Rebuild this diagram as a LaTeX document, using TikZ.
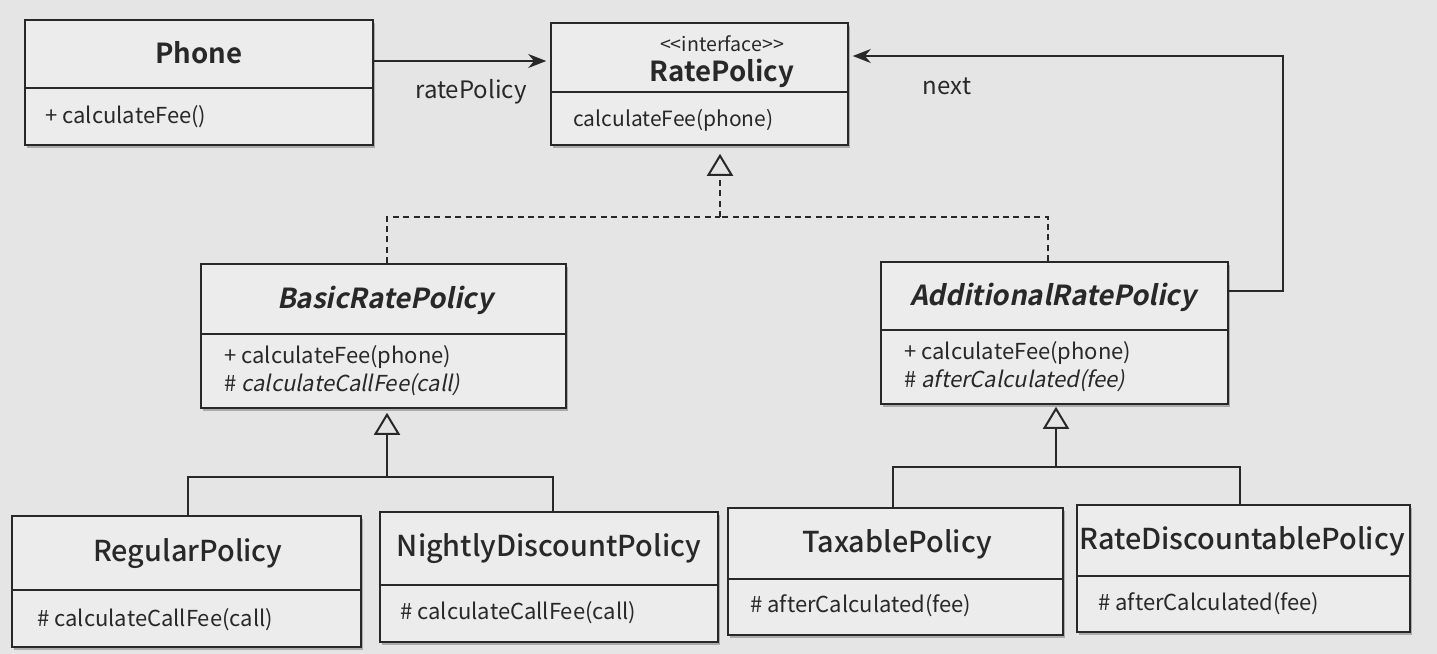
\documentclass[tikz,border=0pt]{standalone}
\usepackage{fontspec}
\setmainfont{Noto Sans CJK KR}[BoldFont={Noto Sans CJK KR Bold}, ItalicFont={Noto Sans CJK KR}, ItalicFeatures={FakeSlant=0.2}, BoldItalicFont={Noto Sans CJK KR Bold}, BoldItalicFeatures={FakeSlant=0.2}]
\newfontfamily\medfont{Noto Sans CJK KR Medium}
\usetikzlibrary{arrows.meta,fit,shadows}
\definecolor{bgc}{RGB}{229,229,229}
\definecolor{boxc}{RGB}{236,236,236}
\definecolor{ink}{RGB}{40,40,40}
\tikzset{
  cls/.style={draw=ink, line width=0.8pt, fill=boxc, inner sep=0pt,
    drop shadow={shadow xshift=1pt, shadow yshift=-1.5pt, opacity=0.25, fill=black}},
  div/.style={draw=ink, line width=0.8pt},
  ttl/.style={font=\fontsize{13.8}{16}\selectfont\bfseries, text=ink, inner sep=0pt},
  ttlm/.style={font=\fontsize{14.4}{17}\selectfont\medfont, text=ink, inner sep=0pt},
  mem/.style={font=\fontsize{11}{13}\selectfont, text=ink, anchor=west, inner sep=0pt},
  memr/.style={font=\fontsize{10.5}{12}\selectfont, text=ink, anchor=west, inner sep=0pt},
  lbl/.style={font=\fontsize{12}{14}\selectfont, text=ink, inner sep=0pt},
  stereo/.style={font=\fontsize{9.8}{11}\selectfont, text=ink, inner sep=0pt},
  assoc/.style={draw=ink, line width=1pt, -{Stealth[length=9pt,width=7pt]}},
  gen/.style={draw=ink, line width=1pt},
  genhead/.style={draw=ink, line width=1pt, -{Triangle[open, length=11pt, width=13pt, fill=bgc]}},
  real/.style={draw=ink, line width=1pt, dash pattern=on 3pt off 2.2pt},
}
\begin{document}
\begin{tikzpicture}[x=0.5pt,y=-0.5pt]
\fill[bgc] (0,0) rectangle (1437,654);
\useasboundingbox (0,0) rectangle (1437,654);

% Phone
\node[cls, fit={(25,20) (373,145)}] (phone) {};
\draw[div] (phone.west |- 0,88) -- (phone.east |- 0,88);
\node[ttl] (phoneT) at (199,53) {Phone};
\node[mem] (phoneM) at (45,117) {+ calculateFee()};

% RatePolicy
\node[cls, fit={(551,23) (848,145)}] (rate) {};
\draw[div] (rate.west |- 0,92) -- (rate.east |- 0,92);
\node[stereo] (rateS) at (722,44) {<{}<interface>{}>};
\node[ttl] (rateT) at (722,73) {RatePolicy};
\node[memr] (rateM) at (573,120) {calculateFee(phone)};

% BasicRatePolicy
\node[cls, fit={(201,264) (566,408)}] (basic) {};
\draw[div] (basic.west |- 0,334) -- (basic.east |- 0,334);
\node[ttl] (basicT) at (385,300) {\itshape BasicRatePolicy};
\node[mem] (basicM1) at (224,357) {+ calculateFee(phone)};
\node[mem] (basicM2) at (224,385) {\# \itshape calculateCallFee(call)};

% AdditionalRatePolicy
\node[cls, fit={(881,262) (1228,404)}] (add) {};
\draw[div] (add.west |- 0,330) -- (add.east |- 0,330);
\node[ttl] (addT) at (1053,297) {\itshape AdditionalRatePolicy};
\node[mem] (addM1) at (904,353) {+ calculateFee(phone)};
\node[mem] (addM2) at (904,381) {\# \itshape afterCalculated(fee)};

% RegularPolicy
\node[cls, fit={(12,516) (361,647)}] (reg) {};
\draw[div] (reg.west |- 0,590) -- (reg.east |- 0,590);
\node[ttlm] (regT) at (188,554) {RegularPolicy};
\node[mem] (regM) at (37,620) {\# calculateCallFee(call)};

% NightlyDiscountPolicy
\node[cls, fit={(380,512) (718,642)}] (night) {};
\draw[div] (night.west |- 0,585) -- (night.east |- 0,585);
\node[ttlm] (nightT) at (549,549) {NightlyDiscountPolicy};
\node[mem] (nightM) at (400,613) {\# calculateCallFee(call)};

% TaxablePolicy
\node[cls, fit={(728,508) (1063,635)}] (tax) {};
\draw[div] (tax.west |- 0,579) -- (tax.east |- 0,579);
\node[ttlm] (taxT) at (897,544) {TaxablePolicy};
\node[mem] (taxM) at (750,606) {\# afterCalculated(fee)};

% RateDiscountablePolicy
\node[cls, fit={(1077,505) (1410,632)}] (rdp) {};
\draw[div] (rdp.west |- 0,576) -- (rdp.east |- 0,576);
\node[ttlm] (rdpT) at (1242,541) {RateDiscountablePolicy};
\node[mem] (rdpM) at (1098,604) {\# afterCalculated(fee)};

% associations
\draw[assoc, shorten >=2pt] (phone.east |- 0,61) -- (rate.west |- 0,61);
\node[lbl] (rpL) at (471,92) {ratePolicy};
\coordinate (nextc) at (1283,56);
\draw[assoc, shorten >=2pt] (add.east |- 0,291) -| (nextc) -- (nextc -| rate.east);
\node[lbl] (nextL) at (947,86) {next};

% realization
\coordinate (rj) at (720,217);
\draw[real] (basic.north -| 387,0) |- (rj);
\draw[real] (add.north -| 1048,0) |- (rj);
\draw[real] (rj) -- (720,180);
\draw[genhead, shorten >=4pt] (720,173) -- (rate.south -| rj);

% generalization Basic
\coordinate (gb) at (387,477);
\draw[gen] (reg.north -| 188,0) |- (gb) -| (night.north -| 553,0);
\draw[genhead, shorten >=2pt] (gb) -- (basic.south -| gb);

% generalization Additional
\coordinate (ga) at (1056,467);
\draw[gen] (tax.north -| 893,0) |- (ga) -| (rdp.north -| 1240,0);
\draw[genhead, shorten >=1pt] (ga) -- (add.south -| ga);
\end{tikzpicture}
\end{document}
